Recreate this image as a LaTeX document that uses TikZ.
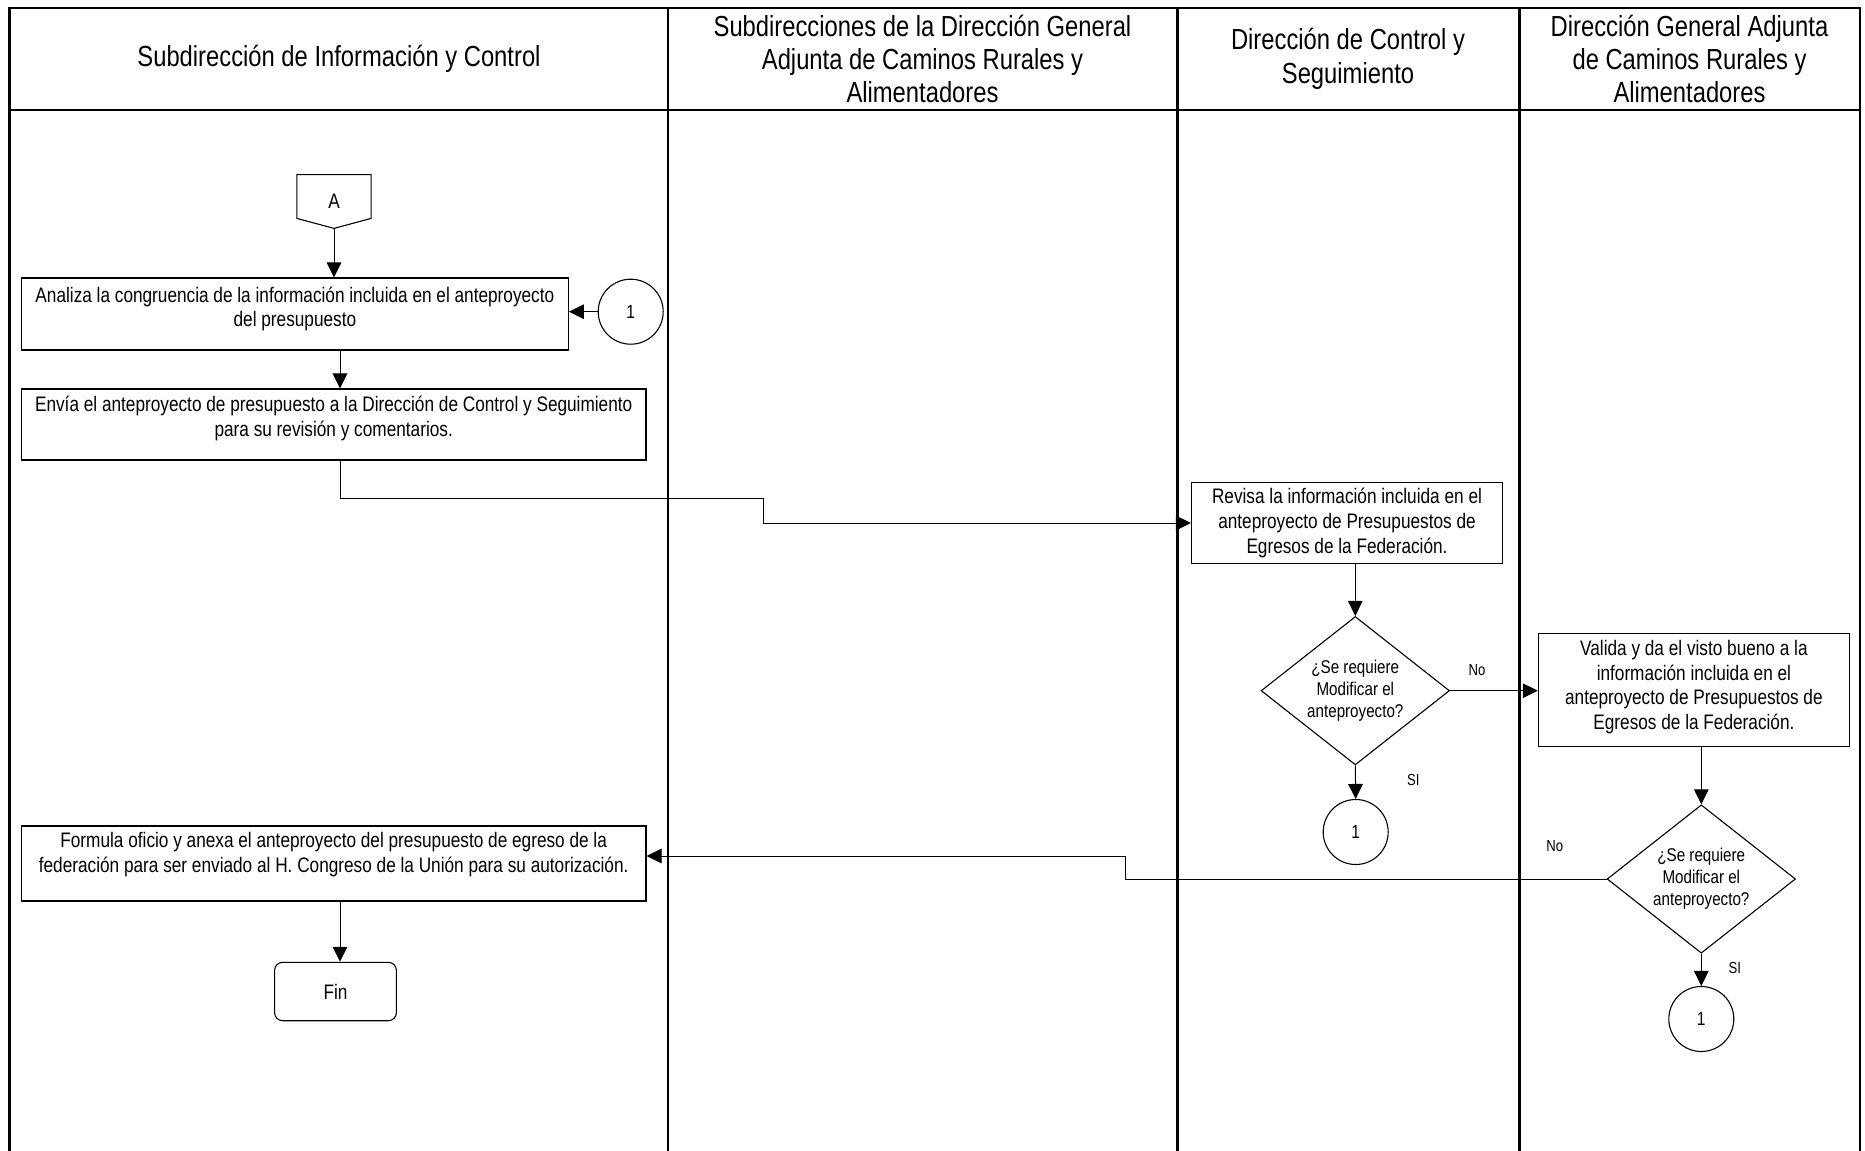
\documentclass[tikz,border=0pt]{standalone}
\usepackage{fontspec}
\setmainfont{Liberation Sans}[FakeStretch=0.82]
\usetikzlibrary{arrows.meta,shapes.geometric}
\begin{document}
\begin{tikzpicture}[x=0.5pt,y=-0.5pt,
  lane/.style={line width=1.2pt},
  box/.style={draw, line width=0.55pt, rectangle, inner sep=0pt},
  txt/.style={font=\fontsize{10.5}{12.4}\selectfont, align=center, inner sep=0pt},
  hdr/.style={font=\fontsize{14.5}{16.7}\selectfont, align=center, inner sep=0pt},
  dtxt/.style={font=\fontsize{9.25}{11}\selectfont, align=center, inner sep=0pt},
  small/.style={font=\fontsize{8}{9.5}\selectfont, inner sep=0pt},
  conn/.style={draw, circle, line width=0.55pt, minimum size=32.5pt, inner sep=0pt, font=\fontsize{9.5}{11}\selectfont},
  dec/.style={draw, diamond, line width=0.55pt, minimum width=94.2pt, minimum height=74.2pt, inner sep=0pt},
  arr/.style={line width=0.5pt, -{Triangle[length=7.5pt,width=7.3pt]}},
  ln/.style={line width=0.5pt}]

\useasboundingbox (0,0) rectangle (1865,1151);

% swimlane frame
\draw[lane] (9.5,1151) -- (9.5,8) -- (1860,8) -- (1860,1151);
\draw[lane] (9.5,110) -- (1860,110);
\draw[lane] (668,8) -- (668,1151);
\draw[lane] (1177.5,8) -- (1177.5,1151);
\draw[lane] (1519.5,8) -- (1519.5,1151);

% headers
\node[hdr] (h1) at (339,59) {Subdirección de Información y Control};
\node[hdr] (h2) at (922.5,59) {Subdirecciones de la Dirección General\\Adjunta de Caminos Rurales y\\Alimentadores};
\node[hdr] (h3) at (1348,59) {Dirección de Control y\\Seguimiento};
\node[hdr] (h4) at (1689.5,59) {Dirección General Adjunta\\de Caminos Rurales y\\Alimentadores};

% off-page connector A
\node[txt, minimum width=36.75pt, minimum height=26.5pt] (A) at (334,201.5) {A};
\draw[line width=0.55pt] (A.north west) -- (A.north east) -- ([yshift=5pt]A.south east) -- (A.south) -- ([yshift=5pt]A.south west) -- cycle;

% boxes
\node[box, minimum width=273.5pt, minimum height=36pt] (b1) at (294.9,314) {};
\node[txt] (b1t) at ([yshift=2.5pt]b1.center) {Analiza la congruencia de la información incluida en el anteproyecto\\del presupuesto};

\node[conn] (c1) at (630.7,311.7) {1};

\node[box, minimum width=312.3pt, minimum height=35.5pt] (b2) at (333.7,424.5) {};
\node[txt] (b2t) at ([yshift=2.9pt]b2.center) {Envía el anteproyecto de presupuesto a la Dirección de Control y Seguimiento\\para su revisión y comentarios.};

\node[box, minimum width=155.6pt, minimum height=40.3pt] (b3) at (1347,523) {};
\node[txt] (b3t) at (b3.center) {Revisa la información incluida en el\\anteproyecto de Presupuestos de\\Egresos de la Federación.};

\node[dec] (d1) at (1355.3,690.7) {};
\node[dtxt] (d1t) at (d1.center) {¿Se requiere\\Modificar el\\anteproyecto?};

\node[box, minimum width=155.6pt, minimum height=56.35pt] (b4) at (1693.9,689.7) {};
\node[txt] (b4t) at ([yshift=1.3pt]b4.center) {Valida y da el visto bueno a la\\información incluida en el\\anteproyecto de Presupuestos de\\Egresos de la Federación.};

\node[conn] (c2) at (1355.7,832) {1};

\node[dec] (d2) at (1701.3,879) {};
\node[dtxt] (d2t) at (d2.center) {¿Se requiere\\Modificar el\\anteproyecto?};

\node[conn] (c3) at (1701.3,1019) {1};

\node[box, minimum width=312.3pt, minimum height=37.5pt] (b5) at (333.7,863.5) {};
\node[txt] (b5t) at ([yshift=4.5pt]b5.center) {Formula oficio y anexa el anteproyecto del presupuesto de egreso de la\\federación para ser enviado al H. Congreso de la Unión para su autorización.};

\node[box, rounded corners=4pt, minimum width=60.9pt, minimum height=29.2pt, txt] (fin) at (335.5,991.5) {Fin};

% labels
\node[small] (no1) at (1477,670) {No};
\node[small] (si1) at (1413.3,780) {SI};
\node[small] (no2) at (1554.8,846) {No};
\node[small] (si2) at (1734.7,967.7) {SI};

% connectors
\coordinate (ax) at (340,0);
\coordinate (j1) at (763.6,498);
\coordinate (j2) at (1125.2,856);
\draw[arr] (A.south) -- (A.south |- b1.north);
\draw[arr] (c1.west) -- (c1.west -| b1.east);
\draw[arr] (b1.south -| ax) -- (b2.north -| ax);
\draw[arr] (b2.south -| ax) |- (j1) |- (b3.west);
\draw[arr] (b3.south -| d1) -- (d1.north);
\draw[arr] (d1.east) -- (d1.east -| b4.west);
\draw[arr] (d1.south) -- (c2.north);
\draw[arr] (b4.south -| d2) -- (d2.north);
\draw[arr] (d2.south) -- (c3.north);
\draw[arr] (d2.west) -| (j2) -- (j2 -| b5.east);
\draw[arr] (b5.south -| ax) -- (ax |- fin.north);
\end{tikzpicture}
\end{document}
